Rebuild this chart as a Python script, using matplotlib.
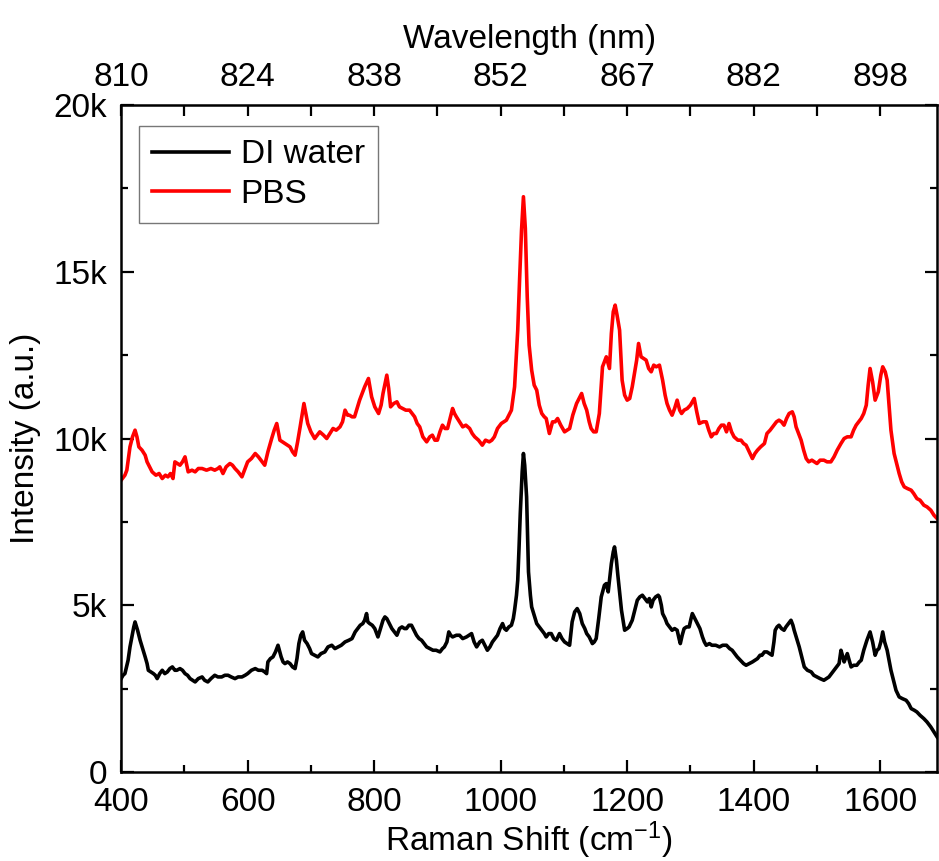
import matplotlib
matplotlib.use('Agg')
import matplotlib.pyplot as plt
from matplotlib.ticker import MultipleLocator

plt.rcParams['font.family'] = ['Liberation Sans', 'DejaVu Sans']
plt.rcParams['mathtext.fontset'] = 'custom'
plt.rcParams['mathtext.rm'] = 'Liberation Sans'
plt.rcParams['mathtext.default'] = 'regular'

# spectra (Raman shift in cm-1, intensity in counts)
pbs_shift = [400, 406, 409, 414, 418, 422, 425, 428, 433, 438, 441, 445, 449, 455, 460, 465, 470, 474, 478, 482,
             485, 489, 493, 497, 501, 506, 512, 517, 522, 528, 535, 542, 548, 553, 556, 561, 566, 572, 576, 580,
             585, 591, 596, 600, 606, 612, 617, 623, 627, 632, 638, 642, 646, 651, 655, 659, 663, 667, 671, 675,
             679, 683, 689, 695, 700, 706, 710, 714, 720, 725, 730, 735, 740, 746, 750, 754, 758, 761, 765, 769,
             773, 777, 781, 785, 791, 796, 801, 807, 811, 814, 820, 823, 826, 831, 836, 840, 845, 850, 856, 860,
             864, 868, 872, 877, 883, 888, 892, 896, 900, 904, 908, 912, 916, 920, 924, 927, 930, 935, 940, 945,
             951, 955, 959, 965, 971, 976, 982, 986, 990, 995, 1001, 1005, 1009, 1013, 1017, 1022, 1027, 1030, 1033, 1036,
             1039, 1042, 1045, 1049, 1053, 1057, 1061, 1065, 1069, 1072, 1077, 1082, 1086, 1090, 1095, 1101, 1105, 1109, 1114, 1120,
             1124, 1128, 1132, 1136, 1140, 1143, 1147, 1151, 1156, 1161, 1167, 1172, 1175, 1178, 1181, 1184, 1188, 1192, 1196, 1200,
             1204, 1208, 1212, 1215, 1218, 1222, 1226, 1230, 1234, 1238, 1242, 1246, 1251, 1256, 1260, 1263, 1267, 1271, 1275, 1279,
             1283, 1286, 1290, 1295, 1300, 1306, 1310, 1314, 1320, 1325, 1329, 1333, 1337, 1341, 1345, 1349, 1353, 1357, 1361, 1365,
             1369, 1375, 1380, 1384, 1388, 1393, 1398, 1402, 1406, 1411, 1417, 1421, 1426, 1432, 1436, 1440, 1444, 1448, 1452, 1456,
             1461, 1464, 1467, 1471, 1475, 1479, 1483, 1487, 1492, 1496, 1500, 1505, 1511, 1516, 1522, 1527, 1532, 1538, 1543, 1548,
             1554, 1558, 1562, 1566, 1570, 1574, 1578, 1581, 1584, 1588, 1592, 1597, 1601, 1604, 1608, 1611, 1614, 1617, 1622, 1626,
             1630, 1634, 1638, 1643, 1649, 1653, 1658, 1663, 1669, 1674, 1680, 1685, 1690]
pbs_int = [8750, 8900, 9050, 9750, 10050, 10250, 10050, 9750, 9650, 9500, 9300, 9150, 9000, 8900, 8950, 8800, 8900, 8850, 8950, 8800,
           9300, 9250, 9200, 9300, 9450, 9000, 9050, 9000, 9100, 9100, 9050, 9100, 9050, 9100, 9150, 8950, 9150, 9250, 9200, 9100,
           9000, 8850, 9100, 9300, 9400, 9550, 9450, 9300, 9200, 9600, 10000, 10250, 10450, 9950, 9900, 9850, 9800, 9750, 9600, 9500,
           9900, 10350, 11050, 10450, 10200, 10000, 10100, 10200, 10100, 10000, 10150, 10300, 10250, 10350, 10500, 10850, 10700, 10700, 10650, 10650,
           10900, 11150, 11350, 11550, 11800, 11250, 10950, 10750, 11000, 11350, 11900, 11500, 10950, 11050, 11100, 10950, 10900, 10850, 10850, 10750,
           10650, 10450, 10350, 10050, 9900, 10050, 10100, 9950, 9950, 10200, 10400, 10300, 10300, 10600, 10900, 10750, 10650, 10500, 10350, 10400,
           10300, 10150, 10050, 9950, 9800, 9950, 9900, 9950, 10050, 10300, 10450, 10500, 10550, 10700, 10850, 11550, 13250, 14800, 16250, 17250,
           16300, 14250, 12800, 12050, 11600, 11450, 11000, 10750, 10650, 10600, 10150, 10500, 10500, 10600, 10400, 10200, 10250, 10300, 10700, 11050,
           11200, 11350, 11050, 10850, 10500, 10300, 10200, 10200, 10750, 12150, 12450, 12100, 13150, 13800, 14000, 13700, 13250, 11750, 11300, 11150,
           11200, 11550, 12000, 12350, 12850, 12450, 12400, 12350, 12100, 12000, 12200, 12150, 12200, 11750, 11300, 11050, 10850, 10700, 10900, 11150,
           10850, 10750, 10850, 10900, 11000, 11200, 10800, 10450, 10500, 10500, 10250, 10050, 10150, 10150, 10300, 10400, 10400, 10200, 10450, 10200,
           10050, 9950, 9950, 9850, 9800, 9600, 9400, 9550, 9650, 9750, 9850, 10150, 10250, 10400, 10500, 10550, 10500, 10400, 10600, 10750,
           10800, 10650, 10350, 10150, 9950, 9650, 9400, 9300, 9350, 9300, 9250, 9350, 9350, 9300, 9300, 9450, 9650, 9850, 10000, 10050,
           10050, 10250, 10400, 10500, 10600, 10750, 11000, 11600, 12100, 11700, 11150, 11400, 11900, 12150, 12000, 11750, 11000, 10250, 9550, 9250,
           8950, 8700, 8550, 8500, 8450, 8350, 8200, 8150, 8000, 7950, 7850, 7700, 7600]

di_shift = [400, 403, 406, 411, 414, 417, 420, 422, 426, 430, 434, 438, 441, 443, 447, 451, 454, 457, 461, 465,
            469, 473, 477, 481, 485, 488, 493, 497, 501, 505, 509, 513, 517, 522, 528, 532, 537, 542, 548, 553,
            559, 564, 569, 574, 580, 585, 591, 596, 600, 606, 612, 617, 623, 627, 630, 632, 636, 640, 644, 648,
            653, 656, 659, 663, 667, 671, 675, 678, 681, 684, 687, 690, 694, 698, 701, 706, 711, 716, 722, 727,
            733, 738, 743, 748, 754, 760, 765, 770, 774, 778, 782, 785, 788, 790, 793, 797, 801, 806, 810, 814,
            817, 820, 824, 828, 832, 836, 840, 844, 848, 851, 855, 859, 863, 867, 871, 875, 879, 883, 888, 893,
            898, 904, 908, 911, 915, 918, 921, 924, 930, 935, 940, 946, 950, 954, 958, 962, 967, 971, 975, 979,
            983, 987, 991, 995, 999, 1003, 1006, 1009, 1013, 1017, 1020, 1022, 1025, 1027, 1029, 1031, 1034, 1036, 1038, 1041,
            1044, 1047, 1049, 1053, 1057, 1061, 1065, 1069, 1072, 1076, 1080, 1084, 1088, 1093, 1097, 1101, 1105, 1109, 1113, 1117,
            1121, 1125, 1129, 1133, 1136, 1140, 1145, 1148, 1151, 1155, 1159, 1164, 1167, 1170, 1173, 1175, 1178, 1180, 1183, 1185,
            1188, 1191, 1194, 1196, 1200, 1203, 1208, 1212, 1216, 1220, 1224, 1228, 1232, 1235, 1238, 1241, 1245, 1249, 1251, 1254,
            1256, 1260, 1263, 1267, 1271, 1275, 1279, 1282, 1284, 1287, 1290, 1294, 1298, 1301, 1303, 1307, 1311, 1315, 1319, 1322,
            1325, 1330, 1334, 1340, 1346, 1351, 1357, 1362, 1366, 1370, 1374, 1379, 1384, 1388, 1393, 1398, 1402, 1406, 1410, 1413,
            1417, 1421, 1425, 1429, 1432, 1434, 1437, 1440, 1444, 1448, 1451, 1455, 1459, 1462, 1464, 1468, 1472, 1476, 1480, 1485,
            1491, 1495, 1500, 1505, 1511, 1515, 1519, 1523, 1527, 1531, 1535, 1538, 1541, 1543, 1546, 1548, 1551, 1554, 1558, 1563,
            1567, 1570, 1574, 1579, 1584, 1588, 1592, 1595, 1598, 1601, 1604, 1607, 1611, 1614, 1617, 1621, 1625, 1630, 1635, 1641,
            1645, 1649, 1654, 1658, 1663, 1669, 1674, 1680, 1685, 1690]
di_int = [2800, 2900, 2950, 3350, 3750, 4050, 4350, 4500, 4250, 3950, 3700, 3450, 3250, 3050, 3000, 2950, 2900, 2800, 2950, 3050,
          2950, 3000, 3100, 3150, 3050, 3050, 3100, 3050, 2950, 2900, 2800, 2750, 2700, 2800, 2850, 2750, 2700, 2800, 2900, 2850,
          2850, 2900, 2900, 2850, 2800, 2850, 2850, 2900, 2950, 3050, 3100, 3050, 3050, 3000, 2950, 3300, 3400, 3450, 3600, 3800,
          3450, 3300, 3250, 3300, 3250, 3150, 3100, 3400, 3850, 4100, 4200, 3950, 3850, 3700, 3550, 3500, 3450, 3550, 3600, 3750,
          3800, 3700, 3750, 3800, 3900, 3950, 4000, 4200, 4300, 4400, 4450, 4550, 4750, 4500, 4450, 4400, 4300, 4050, 4300, 4550,
          4650, 4600, 4450, 4300, 4200, 4100, 4300, 4350, 4300, 4300, 4400, 4400, 4250, 4100, 4000, 3950, 3850, 3750, 3700, 3650,
          3650, 3600, 3700, 3750, 3900, 4200, 4100, 4050, 4100, 4100, 4000, 4050, 4100, 4150, 3900, 3750, 3900, 3950, 3800, 3650,
          3750, 3900, 4000, 4100, 4300, 4450, 4300, 4250, 4350, 4400, 4600, 4850, 5300, 5750, 6700, 7750, 9000, 9550, 9200, 8250,
          6000, 5300, 4950, 4700, 4450, 4350, 4250, 4150, 4050, 4150, 4150, 4000, 3950, 4150, 4000, 3900, 3850, 3800, 4500, 4800,
          4900, 4750, 4450, 4300, 4150, 4050, 3850, 3900, 4000, 4600, 5250, 5600, 5650, 5400, 5900, 6250, 6600, 6750, 6350, 5950,
          5400, 4850, 4500, 4250, 4300, 4350, 4550, 4850, 5150, 5250, 5300, 5200, 5100, 5200, 4950, 5150, 5250, 5300, 5250, 5000,
          4750, 4600, 4450, 4350, 4250, 4300, 4250, 4000, 3850, 4100, 4300, 4350, 4350, 4600, 4750, 4600, 4450, 4300, 4050, 3900,
          3800, 3850, 3800, 3800, 3750, 3800, 3800, 3700, 3650, 3550, 3450, 3350, 3250, 3200, 3250, 3300, 3350, 3400, 3500, 3500,
          3600, 3600, 3550, 3500, 3900, 4250, 4350, 4400, 4300, 4250, 4350, 4450, 4550, 4400, 4250, 4000, 3750, 3450, 3150, 3050,
          3000, 2900, 2850, 2800, 2750, 2800, 2850, 2950, 3050, 3150, 3250, 3650, 3450, 3300, 3450, 3550, 3350, 3150, 3200, 3200,
          3300, 3350, 3650, 3950, 4200, 3900, 3500, 3650, 3700, 3900, 4200, 3900, 3650, 3350, 3050, 2750, 2450, 2250, 2200, 2150,
          2050, 1900, 1850, 1800, 1700, 1600, 1500, 1350, 1200, 1050]

series_labels = ['DI water', 'PBS']
x_ticks = [400, 600, 800, 1000, 1200, 1400, 1600]
y_ticks = [0, 5000, 10000, 15000, 20000]
y_tick_labels = ['0', '5k', '10k', '15k', '20k']
wavelength_labels = ['810', '824', '838', '852', '867', '882', '898']

FS = 24

fig = plt.figure(figsize=(9.39, 8.61), dpi=100)
ax = fig.add_axes([0.129, 0.1034, 0.869, 0.7746])

ax.plot(di_shift, di_int, color='black', lw=2.6, label=series_labels[0])
ax.plot(pbs_shift, pbs_int, color='red', lw=2.6, label=series_labels[1])

ax.set_xlim(400, 1690)
ax.set_ylim(0, 20000)
ax.set_xticks(x_ticks)
ax.xaxis.set_minor_locator(MultipleLocator(100))
ax.set_yticks(y_ticks)
ax.set_yticklabels(y_tick_labels)
ax.yaxis.set_minor_locator(MultipleLocator(2500))

ax.tick_params(which='both', direction='in', width=1.6, labelsize=FS,
               top=False, right=True)
ax.tick_params(axis='x', which='major', length=9, pad=11)
ax.tick_params(axis='y', which='major', length=9, pad=10)
ax.tick_params(which='minor', length=5)
for sp in ax.spines.values():
    sp.set_linewidth(1.8)

ax.set_xlabel(r'Raman Shift (cm$^{-1}$)', fontsize=FS, labelpad=1)
ax.set_ylabel('Intensity (a.u.)', fontsize=FS, labelpad=9)

# top axis: wavelength labels at the same positions as the bottom ticks
top = ax.secondary_xaxis('top')
top_pos = list(range(400, 1700, 100))
top.set_xticks(top_pos)
top.set_xticklabels([wavelength_labels[x_ticks.index(p)] if p in x_ticks else '' for p in top_pos])
top.tick_params(direction='in', length=8, width=1.6, labelsize=FS, pad=9)
top.set_xlabel('Wavelength (nm)', fontsize=FS, labelpad=10)

leg = ax.legend(loc='upper left', bbox_to_anchor=(0.022, 0.9685), borderaxespad=0,
                fontsize=FS, handlelength=2.3, handletextpad=0.35, labelspacing=0.25,
                fancybox=False, frameon=True, borderpad=0.4)
leg.get_frame().set_edgecolor('#555555')
leg.get_frame().set_linewidth(1.0)

plt.savefig('out.png', dpi=100)
